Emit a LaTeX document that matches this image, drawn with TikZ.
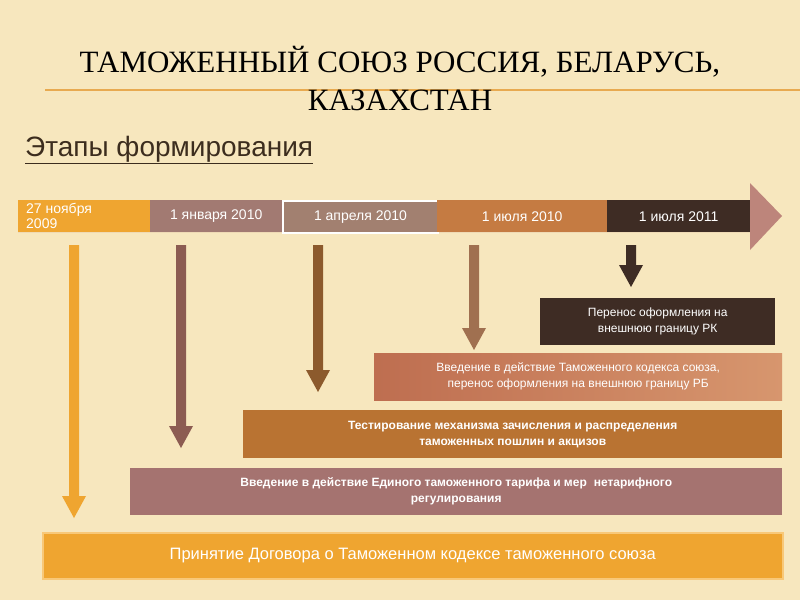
\documentclass[tikz,border=0pt]{standalone}
\usepackage{fontspec}
\setmainfont{Liberation Serif}
\newfontfamily\sans{Liberation Sans}
\begin{document}
\begin{tikzpicture}[x=1pt,y=-1pt,
  seg/.style={draw=none,minimum height=32pt,inner sep=0pt,text=white,font=\sans\fontsize{14}{15}\selectfont},
  box/.style={text=white,align=center,inner sep=2pt,font=\sans\fontsize{12}{16}\selectfont}]
\definecolor{bg}{HTML}{F7E7BE}
\definecolor{c1}{HTML}{EFA530}
\definecolor{c2}{HTML}{A27A72}
\definecolor{c3}{HTML}{A28070}
\definecolor{c4}{HTML}{C57B42}
\definecolor{c5}{HTML}{3E2C24}
\definecolor{big}{HTML}{BD857B}
\definecolor{a2}{RGB}{140,92,82}
\definecolor{a3}{RGB}{140,90,45}
\definecolor{a4}{RGB}{160,112,80}
\definecolor{b4l}{RGB}{190,110,80}
\definecolor{b4r}{RGB}{215,150,110}
\definecolor{b3c}{RGB}{185,115,50}
\definecolor{b2c}{RGB}{165,115,112}
\definecolor{b1d}{RGB}{248,200,120}
\definecolor{tl}{RGB}{232,170,80}
\definecolor{st}{RGB}{60,45,30}
\fill[bg] (0,0) rectangle (800,600);
\useasboundingbox (0,0) rectangle (800,600);
\draw[tl,line width=1.5pt] (45,90) -- (800,90);
\node (t1) at (400,62) {\fontsize{31}{34}\selectfont ТАМОЖЕННЫЙ СОЮЗ РОССИЯ, БЕЛАРУСЬ,};
\node (t2) at (400,100) {\fontsize{31}{34}\selectfont КАЗАХСТАН};
\node[anchor=west,inner sep=0pt,text=st] (sub) at (25,150) {\sans\fontsize{28}{30}\selectfont\underline{Этапы формирования}};
\fill[big] (18,200) -- (750,200) -- (750,183) -- (782,216) -- (750,250) -- (750,232) -- (18,232) -- cycle;
\node[seg,fill=c1,minimum width=132pt,anchor=north west] (s1) at (18,200) {};
\node[anchor=west,text=white,align=left,font=\sans\fontsize{14}{15}\selectfont,inner sep=0pt] (s1t) at (26,216) {27 ноября\\2009};
\node[seg,fill=c2,minimum width=132pt,anchor=north west] (s2) at (150,200) {1 января 2010};
\node[seg,fill=c3,minimum width=155pt,anchor=north west,draw=white,line width=2pt] (s3) at (282,200) {1 апреля 2010};
\node[seg,fill=c4,minimum width=170pt,anchor=north west] (s4) at (437,200) {1 июля 2010};
\node[seg,fill=c5,minimum width=143pt,anchor=north west] (s5) at (607,200) {1 июля 2011};
\node[box,fill=c5,minimum width=235pt,minimum height=47pt,anchor=north west] (b5) at (540,298) {Перенос оформления на\\внешнюю границу РК};
\node[box,left color=b4l,right color=b4r,minimum width=408pt,minimum height=47pt,anchor=north west] (b4) at (374,353) {Введение в действие Таможенного кодекса союза,\\перенос оформления на внешнюю границу РБ};
\node[box,fill=b3c,minimum width=539pt,minimum height=48pt,anchor=north west,font=\sans\bfseries\fontsize{12}{16}\selectfont] (b3) at (243,410) {Тестирование механизма зачисления и распределения\\таможенных пошлин и акцизов};
\node[box,fill=b2c,minimum width=652pt,minimum height=47pt,anchor=north west,font=\sans\bfseries\fontsize{12}{16}\selectfont] (b2) at (130,468) {Введение в действие Единого таможенного тарифа и мер\hspace{0.3em} нетарифного\\регулирования};
\node[box,fill=c1,draw=b1d,line width=1.5pt,minimum width=740pt,minimum height=46pt,anchor=north west,font=\sans\fontsize{16.5}{18}\selectfont] (b1) at (42,532) {Принятие Договора о Таможенном кодексе таможенного союза};
\foreach \x/\y/\c in {74/518/c1,181/448/a2,318/392/a3,474/350/a4,631/287/c5}{
  \fill[\c] (\x-5,245) -- (\x+5,245) -- (\x+5,\y-22) -- (\x+12,\y-22) -- (\x,\y) -- (\x-12,\y-22) -- (\x-5,\y-22) -- cycle;
}
\end{tikzpicture}
\end{document}
